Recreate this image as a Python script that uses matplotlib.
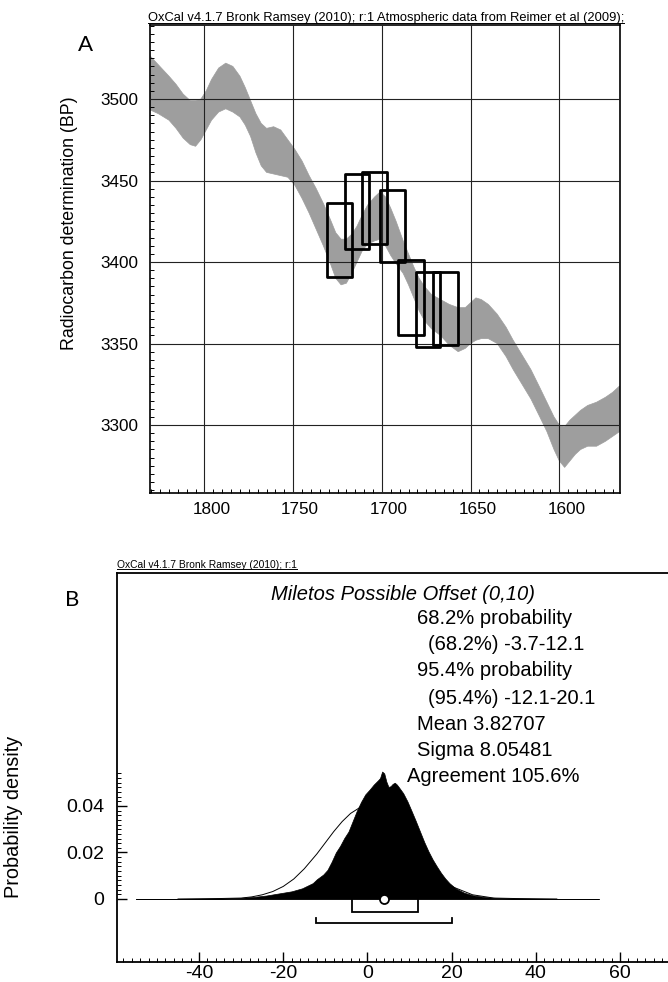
import numpy as np
import matplotlib
matplotlib.use("Agg")
import matplotlib.pyplot as plt
from matplotlib.patches import Rectangle, Polygon
from matplotlib.lines import Line2D
from matplotlib.ticker import MultipleLocator, FixedLocator
from matplotlib.transforms import ScaledTranslation

plt.rcParams['font.family'] = ['Liberation Sans', 'DejaVu Sans']
plt.rcParams['axes.unicode_minus'] = False

# ---------------- Panel A data ----------------
cal_year = [1832, 1826, 1820, 1816, 1812, 1808, 1805, 1802, 1799, 1796, 1792, 1788,
            1784, 1780, 1777, 1774, 1771, 1768, 1765, 1761, 1757, 1753, 1749, 1745,
            1741, 1737, 1733, 1729, 1726, 1723, 1720, 1717, 1714, 1711, 1708, 1704,
            1701, 1698, 1695, 1692, 1688, 1685, 1682, 1679, 1676, 1672, 1667, 1662,
            1657, 1653, 1650, 1647, 1644, 1640, 1635, 1630, 1626, 1621, 1616, 1611,
            1607, 1603, 1600, 1597, 1594, 1591, 1588, 1584, 1579, 1574, 1570, 1566]
cal_upper = [3528, 3521, 3514, 3509, 3503, 3499, 3499, 3500, 3505, 3512, 3519, 3522,
             3520, 3514, 3507, 3499, 3491, 3485, 3482, 3483, 3481, 3475, 3469, 3462,
             3453, 3445, 3436, 3426, 3418, 3414, 3414, 3417, 3422, 3429, 3435, 3440,
             3443, 3440, 3433, 3425, 3413, 3405, 3397, 3390, 3385, 3380, 3377, 3374,
             3372, 3372, 3375, 3378, 3377, 3374, 3368, 3360, 3352, 3343, 3334, 3323,
             3314, 3305, 3300, 3299, 3303, 3306, 3309, 3312, 3314, 3317, 3320, 3324]
cal_lower = [3494, 3491, 3487, 3482, 3476, 3472, 3471, 3475, 3481, 3487, 3492, 3494,
             3492, 3489, 3484, 3477, 3467, 3459, 3455, 3454, 3453, 3452, 3447, 3439,
             3430, 3420, 3410, 3399, 3390, 3386, 3387, 3393, 3400, 3407, 3411, 3413,
             3414, 3410, 3404, 3399, 3393, 3386, 3378, 3370, 3364, 3359, 3355, 3349,
             3345, 3347, 3350, 3352, 3353, 3353, 3350, 3342, 3334, 3325, 3316, 3305,
             3296, 3285, 3278, 3274, 3278, 3282, 3285, 3287, 3287, 3290, 3293, 3296]

box_year_old = [1731, 1721, 1711, 1701, 1691, 1680.5, 1671]
box_year_young = [1717, 1707, 1697, 1687, 1676.5, 1667, 1657]
box_bp_low = [3391, 3408, 3411, 3400, 3355, 3348, 3349]
box_bp_high = [3436, 3454, 3455, 3444, 3401, 3394, 3394]

a_xticks = [1800, 1750, 1700, 1650, 1600]
a_yticks = [3300, 3350, 3400, 3450, 3500]

# ---------------- Panel B data ----------------
post_x = [-55, -40, -35, -30, -27, -24, -21, -18, -15.5, -13, -12, -10.5, -9.5, -8.5,
          -7.5, -6.5, -5.5, -4.5, -3.5, -2.5, -1.5, -0.5, 0.5, 1.5, 2.5, 3.0, 3.5,
          4.0, 4.5, 5.0, 5.5, 6.0, 6.5, 7.0, 7.5, 8.5, 9.5, 10.5, 11.5, 12.5, 13.5,
          14.5, 15.5, 16.5, 17.5, 18.5, 19.5, 21, 23, 25, 28, 31, 35, 40, 55]
post_y = [0.0, 0.0001, 0.0002, 0.0005, 0.0009, 0.0015, 0.0024, 0.0033, 0.0046, 0.0068,
          0.0085, 0.0105, 0.0125, 0.0160, 0.0200, 0.0228, 0.0262, 0.0290, 0.0335,
          0.0380, 0.0418, 0.0450, 0.0470, 0.0492, 0.0510, 0.0520, 0.0548, 0.0540,
          0.0505, 0.0482, 0.0485, 0.0495, 0.0500, 0.0492, 0.0480, 0.0455, 0.0420,
          0.0378, 0.0335, 0.0290, 0.0245, 0.0205, 0.0170, 0.0140, 0.0112, 0.0088,
          0.0068, 0.0045, 0.0027, 0.0016, 0.0008, 0.0004, 0.0002, 0.0001, 0.0]
prior_x = [-45, -40, -35, -30, -27.5, -25, -22.5, -20, -17.5, -15, -12, -10, -8, -6,
           -4, -2, 0, 2, 4, 6, 8, 10, 15, 20, 25, 30, 35, 40, 45]
prior_y = [0.0, 0.0001, 0.0002, 0.0004, 0.0009, 0.0018, 0.0032, 0.0054, 0.0086,
           0.0130, 0.0194, 0.0242, 0.0290, 0.0333, 0.0368, 0.0391, 0.0399, 0.0391,
           0.0368, 0.0333, 0.0290, 0.0242, 0.0130, 0.0054, 0.0018, 0.0004, 0.0002,
           0.0001, 0.0]
post_mean = 3.82707
range68 = [-3.7, 12.1]
range95 = [-12.1, 20.1]
b_xticks = [-40, -20, 0, 20, 40, 60]
b_yticks = [0, 0.02, 0.04]
b_ytick_labels = ['0', '0.02', '0.04']

stats_lines = ["68.2% probability", "(68.2%) -3.7-12.1", "95.4% probability",
               "(95.4%) -12.1-20.1", "Mean 3.82707", "Sigma 8.05481",
               "Agreement 105.6%"]

W, H = 668, 982
fig = plt.figure(figsize=(W / 100, H / 100), dpi=100)

def fx(px):
    return px / W

def fy(py):
    return 1 - py / H

# ================= Panel A =================
A_L, A_R, A_T, A_B = 150, 620, 25, 493
axA = fig.add_axes([fx(A_L), fy(A_B), fx(A_R) - fx(A_L), fy(A_T) - fy(A_B)])
axA.set_xlim(1830.7, 1565.8)
axA.set_ylim(3258.3, 3545.4)
band = np.column_stack([cal_year + cal_year[::-1], cal_upper + cal_lower[::-1]])
axA.add_patch(Polygon(band, closed=True, facecolor='#9e9e9e', edgecolor='#9e9e9e',
                      lw=0.5, zorder=2))
for yo, yy, lo, hi in zip(box_year_old, box_year_young, box_bp_low, box_bp_high):
    axA.add_patch(Rectangle((yy, lo), yo - yy, hi - lo, fill=False, edgecolor='black',
                            lw=2.0, zorder=4, joinstyle='round'))
axA.set_xticks(a_xticks)
axA.set_yticks(a_yticks)
axA.xaxis.set_minor_locator(MultipleLocator(5))
axA.yaxis.set_minor_locator(MultipleLocator(5))
axA.grid(True, which='major', color='#222222', lw=0.8, zorder=3)
axA.set_axisbelow(False)
axA.tick_params(which='both', direction='in', top=False, right=False, labelsize=12.3)
axA.tick_params(which='major', length=0)
axA.tick_params(axis='x', which='major', pad=6.5)
axA.tick_params(axis='y', which='major', pad=8.5)
axA.tick_params(which='minor', length=3, width=0.7)
for s in axA.spines.values():
    s.set_linewidth(1.2)
axA.set_ylabel("Radiocarbon determination (BP)", fontsize=12.8)
axA.yaxis.set_label_coords((78 - A_L) / (A_R - A_L), (A_B - 223) / (A_B - A_T))
shift = ScaledTranslation(7 / 100, 0, fig.dpi_scale_trans)
for lab in axA.get_xticklabels():
    lab.set_transform(lab.get_transform() + shift)

# ================= Panel B =================
B_L, B_R, B_T, B_B = 117, 690, 573, 962
axB = fig.add_axes([fx(B_L), fy(B_B), fx(B_R) - fx(B_L), fy(B_T) - fy(B_B)])
axB.set_xlim(-59.5, 76.65)
axB.set_ylim(-0.0271, 0.1402)
axB.plot([-55, 55], [0, 0], color='#555555', lw=0.6, zorder=1)
axB.plot(prior_x, prior_y, color='black', lw=0.7, zorder=2)
axB.fill_between(post_x, post_y, 0, color='black', lw=0.5, zorder=3)
for (lo, hi), yb, ytop in [(range68, -0.0054, -0.0006), (range95, -0.0103, -0.0080)]:
    axB.plot([lo, lo, hi, hi], [ytop, yb, yb, ytop], color='black', lw=1.3, zorder=4,
             solid_joinstyle='miter')
axB.plot([post_mean], [0], marker='o', ms=6.5, mfc='white', mec='black', mew=1.3,
         zorder=5, clip_on=False)
axB.set_xticks(b_xticks)
axB.xaxis.set_minor_locator(FixedLocator(np.arange(-58, 78, 2)))
axB.set_yticks(b_yticks)
axB.set_yticklabels(b_ytick_labels)
axB.yaxis.set_minor_locator(FixedLocator(np.arange(0, 0.0545, 0.002)))
axB.tick_params(which='both', direction='in', top=False, right=False, labelsize=14)
axB.tick_params(which='major', length=7, width=1.0)
axB.tick_params(axis='x', which='major', pad=2)
axB.tick_params(axis='y', which='major', pad=9.4)
axB.tick_params(which='minor', length=3, width=0.7)
for s in axB.spines.values():
    s.set_linewidth(1.3)
axB.spines['right'].set_visible(False)
axB.set_ylabel("Probability density", fontsize=14.3)
axB.yaxis.set_label_coords((23 - B_L) / (B_R - B_L), (B_B - 817) / (B_B - B_T))

fig.text(fx(535), fy(593), "Miletos Possible Offset (0,10)", style='italic',
         fontsize=14.5, ha='right', va='center_baseline')
stat_x = [417, 428, 417, 428, 417, 417, 407]
stat_y = [617, 643, 669, 696, 722, 748, 774]
for t, xx, yy in zip(stats_lines, stat_x, stat_y):
    fig.text(fx(xx), fy(yy), t, fontsize=14.5, ha='left', va='center_baseline')

# panel letters
fig.text(fx(85), fy(43), "A", fontsize=16, family=['Lato', 'DejaVu Sans'],
         ha='center', va='center_baseline')
fig.text(fx(72), fy(598), "B", fontsize=16, family=['Lato', 'DejaVu Sans'],
         ha='center', va='center_baseline')

# headers with underline, scaled to target widths
renderer = fig.canvas.get_renderer()

def header(x0, ycen, txt, target_w):
    t = fig.text(fx(x0), fy(ycen), txt, fontsize=10, ha='left', va='center_baseline')
    w = t.get_window_extent(renderer).width
    t.set_fontsize(10 * target_w / w)
    bb = t.get_window_extent(renderer)
    yl = bb.y0 + 1.5
    fig.add_artist(Line2D([bb.x0 / W, bb.x1 / W], [yl / H, yl / H], color='black',
                          lw=0.7, transform=fig.transFigure))

header(148, 17, "OxCal v4.1.7 Bronk Ramsey (2010); r:1 Atmospheric data from Reimer et al (2009);", 476)
header(117, 564, "OxCal v4.1.7 Bronk Ramsey (2010); r:1", 180)

fig.savefig("out.png", dpi=100)
